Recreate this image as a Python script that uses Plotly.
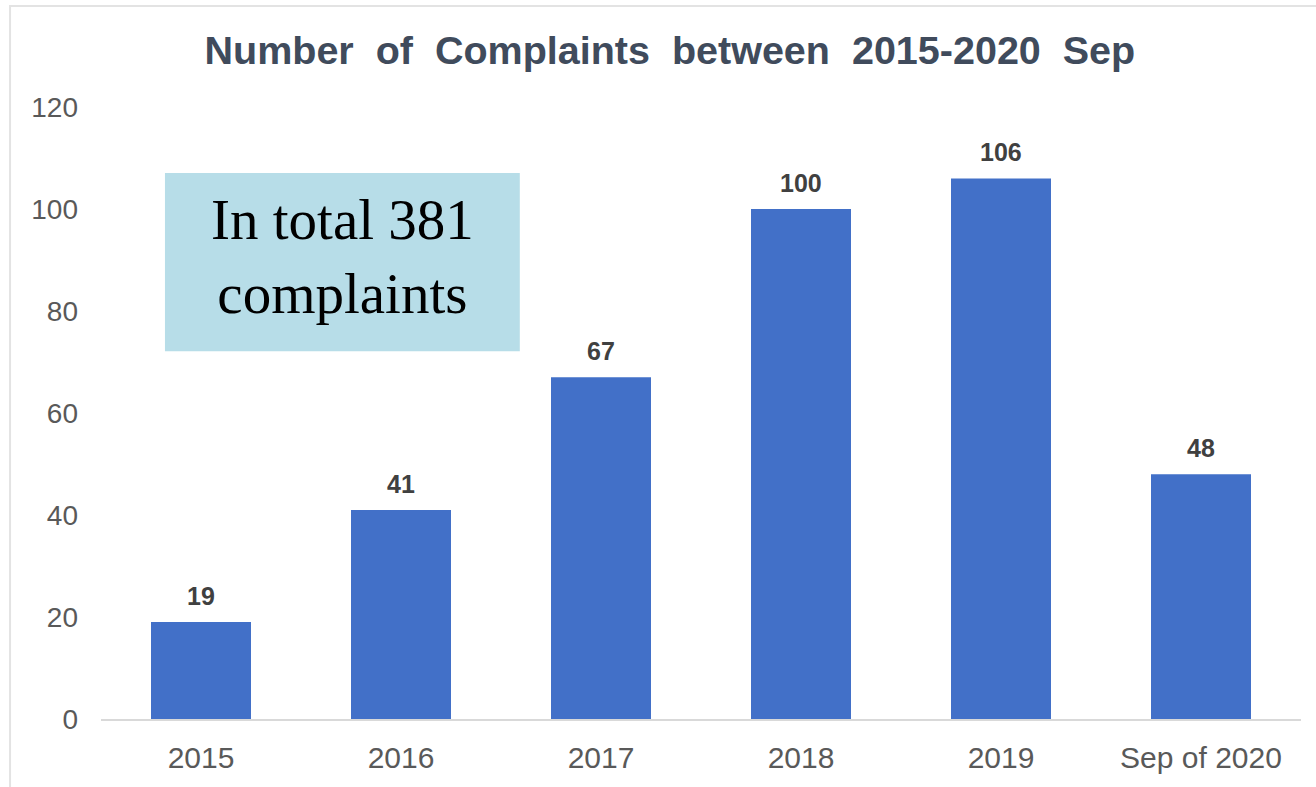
import plotly.graph_objects as go

categories = ["2015", "2016", "2017", "2018", "2019", "Sep of 2020"]
complaints = [19, 41, 67, 100, 106, 48]
y_ticks = [0, 20, 40, 60, 80, 100, 120]
title_text = "Number  of  Complaints  between  2015-2020  Sep"
box_text = "In total 381<br>complaints"

fig = go.Figure()
fig.add_trace(go.Bar(
    x=categories, y=complaints,
    marker=dict(color="#4270c8", line=dict(width=0)),
    showlegend=False,
    hoverinfo="skip",
))

# value labels (category index positions on the category axis)
for i, v in enumerate(complaints):
    fig.add_annotation(
        x=i, y=v, text=f"<b>{v}</b>", showarrow=False,
        yanchor="bottom", yshift=10,
        font=dict(family="Liberation Sans, Arial", size=25, color="#404040"),
    )

# outer light border
fig.add_shape(type="rect", xref="paper", yref="paper",
              x0=-0.0758, x1=1.03, y0=-0.2, y1=1.165,
              line=dict(color="#e3e3e3", width=2), fillcolor="rgba(0,0,0,0)", layer="below")

# text box
fig.add_shape(type="rect", xref="paper", yref="paper",
              x0=0.0533, x1=0.349, y0=0.601, y1=0.892,
              line=dict(width=0), fillcolor="#b7dde8", layer="below")
fig.add_annotation(
    xref="paper", yref="paper", x=0.201, y=0.755,
    text=box_text, showarrow=False, align="center",
    xanchor="center", yanchor="middle",
    font=dict(family="Liberation Serif, DejaVu Serif, serif", size=57, color="#000000"),
)

fig.update_layout(
    width=1316, height=787,
    margin=dict(l=101, r=15, t=107, b=68),
    paper_bgcolor="white", plot_bgcolor="white",
    bargap=0.5,
    title=dict(
        text=f"<b>{title_text}</b>",
        x=0.509, xref="container", xanchor="center",
        y=1 - 50 / 787, yref="container", yanchor="middle",
        font=dict(family="Liberation Sans, Arial", size=39.5, color="#404b5c"),
    ),
    xaxis=dict(
        type="category", range=[-0.5, len(categories) - 0.5],
        showgrid=False, showline=True, linecolor="#d9d9d9", linewidth=2,
        ticks="", tickfont=dict(family="Liberation Sans, Arial", size=30, color="#595959"),
        ticklabelstandoff=11,
    ),
    yaxis=dict(
        range=[0, 120], tickvals=y_ticks, showgrid=False, zeroline=False,
        showline=False, ticks="",
        tickfont=dict(family="Liberation Sans, Arial", size=28, color="#595959"),
        ticklabelstandoff=22,
    ),
)

fig.write_html("out.html")
